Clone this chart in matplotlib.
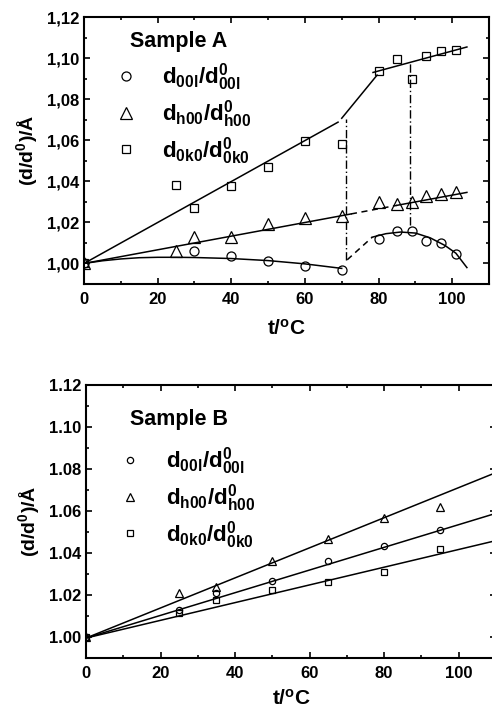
import matplotlib
matplotlib.use("Agg")
import matplotlib.pyplot as plt
from matplotlib.lines import Line2D
from matplotlib.ticker import MultipleLocator, FuncFormatter

plt.rcParams['font.family'] = ['Liberation Sans', 'DejaVu Sans']
plt.rcParams['font.weight'] = 'bold'
plt.rcParams['axes.labelweight'] = 'bold'
plt.rcParams['mathtext.fontset'] = 'custom'
plt.rcParams['mathtext.rm'] = 'Liberation Sans:bold'
plt.rcParams['mathtext.it'] = 'Liberation Sans:bold'
plt.rcParams['mathtext.bf'] = 'Liberation Sans:bold'

# ---- Sample A data ----
tA_00l = [0, 30, 40, 50, 60, 70, 80, 85, 89, 93, 97, 101]
dA_00l = [1.000, 1.006, 1.0035, 1.001, 0.9988, 0.997, 1.0117, 1.0156, 1.016, 1.0107, 1.010, 1.0044]
tA_h00 = [0, 25, 30, 40, 50, 60, 70, 80, 85, 89, 93, 97, 101]
dA_h00 = [1.000, 1.0063, 1.0127, 1.0127, 1.019, 1.022, 1.023, 1.030, 1.029, 1.030, 1.033, 1.0337, 1.035]
tA_0k0 = [0, 25, 30, 40, 50, 60, 70, 80, 85, 89, 93, 97, 101]
dA_0k0 = [1.000, 1.038, 1.027, 1.0375, 1.0468, 1.0595, 1.058, 1.0937, 1.0995, 1.090, 1.101, 1.1034, 1.104]

# fitted / guide lines for Sample A
fit_0k0_segments = [([0, 69], [1.000, 1.0688]),
                    ([70, 79.6], [1.0707, 1.0917]),
                    ([78.5, 104], [1.093, 1.1054])]
fit_h00_solid = [([0, 72.5], [1.000, 1.0241]), ([85, 104], [1.0283, 1.0346])]
fit_h00_dash = ([72.5, 85], [1.0241, 1.0283])
fit_00l_low_t = [0, 5, 10, 15, 20, 25, 30, 40, 50, 60, 70]
fit_00l_low_d = [1.000, 1.0013, 1.0022, 1.0028, 1.003, 1.003, 1.0029, 1.0024, 1.0014, 0.9998, 0.9976]
fit_00l_dash = ([71.5, 78.3], [1.0018, 1.0128])
fit_00l_high_t = [78.3, 82, 86, 90, 94, 98, 101, 104]
fit_00l_high_d = [1.0128, 1.0145, 1.0153, 1.0148, 1.0125, 1.0088, 1.005, 0.998]
trans_t = [71.2, 88.6]
trans_lo = [1.0015, 1.0185]
trans_hi = [1.0705, 1.0982]

# ---- Sample B data ----
tB = [0, 25, 35, 50, 65, 80, 95]
dB_00l = [1.000, 1.0129, 1.021, 1.0267, 1.036, 1.0433, 1.051]
dB_h00 = [1.000, 1.021, 1.0238, 1.036, 1.0467, 1.0567, 1.062]
dB_0k0 = [1.000, 1.0114, 1.0176, 1.0224, 1.026, 1.031, 1.042]
fitB_t = [0, 110]
fitB_00l = [0.9995, 1.0589]
fitB_h00 = [0.9995, 1.0783]
fitB_0k0 = [0.9995, 1.0459]

labels = [r'$\mathregular{d_{00l}/d^{0}_{00l}}$',
          r'$\mathregular{d_{h00}/d^{0}_{h00}}$',
          r'$\mathregular{d_{0k0}/d^{0}_{0k0}}$']

fig = plt.figure(figsize=(4.92, 7.13), dpi=100)
axA = fig.add_axes([84 / 492, 1 - 284 / 713, 405 / 492, 267 / 713])
axB = fig.add_axes([86 / 492, 1 - 658 / 713, 410 / 492, 273 / 713])


def style_axis(ax, comma, xpad):
    ax.set_xlim(0, 110)
    ax.set_ylim(0.99, 1.12)
    ax.xaxis.set_major_locator(MultipleLocator(20))
    ax.xaxis.set_minor_locator(MultipleLocator(10))
    ax.yaxis.set_minor_locator(MultipleLocator(0.01))
    ax.set_yticks([1.00, 1.02, 1.04, 1.06, 1.08, 1.10, 1.12])
    if comma:
        ax.yaxis.set_major_formatter(FuncFormatter(lambda v, p: f'{v:.2f}'.replace('.', ',')))
    else:
        ax.yaxis.set_major_formatter(FuncFormatter(lambda v, p: f'{v:.2f}'))
    ax.tick_params(which='both', direction='in', top=True, right=True, width=1.2, labelsize=12)
    ax.tick_params(which='major', length=4)
    ax.tick_params(which='minor', length=2.5)
    ax.tick_params(axis='x', pad=6)
    for s in ax.spines.values():
        s.set_linewidth(1.5)
    ax.set_xlabel(r't/$\mathregular{^o}$C', fontsize=15, labelpad=xpad)
    ax.set_ylabel(r'(d/d$\mathregular{^0}$)/Å', fontsize=14, labelpad=5)


mk = dict(linestyle='none', markerfacecolor='none', markeredgecolor='black', markeredgewidth=0.9)
leg_kw = dict(loc='center left', frameon=False, fontsize=16, handlelength=1.0,
              handletextpad=1.1, labelspacing=0.22, borderaxespad=0, borderpad=0)

# ---- Panel A ----
axA.plot(tA_00l, dA_00l, marker='o', markersize=6.5, **mk)
axA.plot(tA_h00, dA_h00, marker='^', markersize=8, **mk)
axA.plot(tA_0k0, dA_0k0, marker='s', markersize=6, **mk)
for tt, dd in fit_0k0_segments:
    axA.plot(tt, dd, color='black', lw=1.1)
for tt, dd in fit_h00_solid:
    axA.plot(tt, dd, color='black', lw=1.1)
axA.plot(fit_h00_dash[0], fit_h00_dash[1], color='black', lw=1.1, ls=(0, (4, 3)))
axA.plot(fit_00l_low_t, fit_00l_low_d, color='black', lw=1.1)
axA.plot(fit_00l_dash[0], fit_00l_dash[1], color='black', lw=1.1, ls=(0, (4, 3)))
axA.plot(fit_00l_high_t, fit_00l_high_d, color='black', lw=1.1)
axA.vlines(trans_t, trans_lo, trans_hi, colors='black', lw=1.0, linestyles=[(0, (6, 2, 1, 2))])
style_axis(axA, comma=True, xpad=8)

axA.text(0.114, 0.91, 'Sample A', transform=axA.transAxes, fontsize=15.5,
         fontweight='bold', va='center', ha='left')
handlesA = [Line2D([], [], marker='o', markersize=6.5, **mk),
            Line2D([], [], marker='^', markersize=8, **mk),
            Line2D([], [], marker='s', markersize=6, **mk)]
axA.legend(handlesA, labels, bbox_to_anchor=(0.0765, 0.637), **leg_kw)

# ---- Panel B ----
axB.plot(tB, dB_00l, marker='o', markersize=4.5, **mk)
axB.plot(tB, dB_h00, marker='^', markersize=5.5, **mk)
axB.plot(tB, dB_0k0, marker='s', markersize=4.5, **mk)
axB.plot(fitB_t, fitB_00l, color='black', lw=1.1)
axB.plot(fitB_t, fitB_h00, color='black', lw=1.1)
axB.plot(fitB_t, fitB_0k0, color='black', lw=1.1)
style_axis(axB, comma=False, xpad=5)

axB.text(0.107, 0.872, 'Sample B', transform=axB.transAxes, fontsize=15.5,
         fontweight='bold', va='center', ha='left')
handlesB = [Line2D([], [], marker='o', markersize=4.5, **mk),
            Line2D([], [], marker='^', markersize=5.5, **mk),
            Line2D([], [], marker='s', markersize=4.5, **mk)]
axB.legend(handlesB, labels, bbox_to_anchor=(0.0805, 0.586), **leg_kw)

fig.savefig('out.png', dpi=100)
